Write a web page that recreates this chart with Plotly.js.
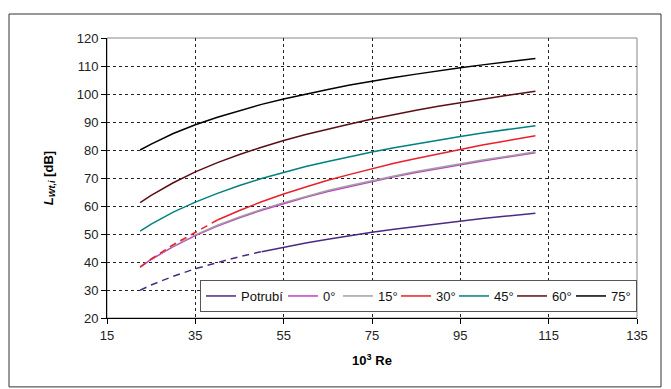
<!DOCTYPE html>
<html>
<head>
<meta charset="utf-8">
<script src="https://cdn.plot.ly/plotly-3.0.1.min.js"></script>
<style>html,body{margin:0;padding:0;background:#fff;}#chart{width:671px;height:389px;}</style>
</head>
<body>
<div id="chart"></div>
<script>
// Re x 10^3
var re = [22.5, 25, 30, 35, 40, 45, 50, 55, 60, 65, 70, 75, 80, 85, 90, 95, 100, 105, 112];

var seriesNames = ["Potrubí", "0°", "15°", "30°", "45°", "60°", "75°"];
var potrubi = [29.9, 31.8, 34.9, 37.6, 39.8, 41.9, 43.7, 45.3, 46.8, 48.1, 49.4, 50.6, 51.7, 52.7, 53.7, 54.6, 55.5, 56.3, 57.4];
var deg0   = [38.2, 40.9, 45.5, 49.4, 52.8, 55.8, 58.5, 60.9, 63.1, 65.2, 67.0, 68.8, 70.4, 72.0, 73.4, 74.8, 76.1, 77.3, 79.0];
var deg15  = [38.3, 41.1, 45.8, 49.7, 53.1, 56.1, 58.8, 61.2, 63.4, 65.5, 67.3, 69.1, 70.7, 72.3, 73.7, 75.1, 76.4, 77.6, 79.4];
var deg30  = [38.2, 41.0, 46.2, 50.6, 55.0, 58.4, 61.5, 64.3, 66.8, 69.2, 71.3, 73.4, 75.3, 77.0, 78.7, 80.2, 81.8, 83.2, 85.1];
var deg45  = [51.0, 53.5, 57.8, 61.4, 64.5, 67.3, 69.8, 72.0, 74.1, 75.9, 77.7, 79.3, 80.8, 82.2, 83.6, 84.8, 86.1, 87.2, 88.7];
var deg60  = [61.2, 63.8, 68.3, 72.2, 75.5, 78.4, 81.0, 83.4, 85.5, 87.5, 89.3, 91.1, 92.7, 94.2, 95.6, 96.9, 98.2, 99.4, 101.0];
var deg75  = [80.0, 82.1, 85.9, 89.0, 91.7, 94.1, 96.3, 98.2, 100.0, 101.6, 103.2, 104.6, 105.9, 107.1, 108.3, 109.4, 110.4, 111.4, 112.7];
// index up to which each series is drawn dashed (0 = fully solid)
var dashedUntil = [6, 0, 3, 4, 0, 0, 0];

var colors = ["#4b2a83", "#c040c0", "#a0a0a0", "#e8202a", "#008080", "#5a0f14", "#000000"];
var legendWidths = [37, 10, 13, 13, 13, 14, 20];
var allY = [potrubi, deg0, deg15, deg30, deg45, deg60, deg75];

var xTickVals = [15, 35, 55, 75, 95, 115, 135];
var yTickVals = [20, 30, 40, 50, 60, 70, 80, 90, 100, 110, 120];

var traces = [];
for (var i = 0; i < seriesNames.length; i++) {
  var k = dashedUntil[i];
  if (k > 0) {
    traces.push({
      x: re.slice(0, k + 1), y: allY[i].slice(0, k + 1), type: "scatter", mode: "lines",
      line: {color: colors[i], width: 1.5, dash: "7px,5px"}, showlegend: false, hoverinfo: "skip"
    });
  }
  traces.push({
    x: re.slice(k), y: allY[i].slice(k), type: "scatter", mode: "lines",
    name: seriesNames[i], line: {color: colors[i], width: 1.5},
    legendwidth: legendWidths[i]
  });
}

var layout = {
  width: 671, height: 389,
  margin: {l: 107, r: 34, t: 38, b: 71},
  paper_bgcolor: "#ffffff", plot_bgcolor: "#ffffff",
  font: {family: "Arial, Liberation Sans, sans-serif", size: 13, color: "#222"},
  showlegend: true,
  xaxis: {
    range: [15, 135], tickvals: xTickVals, ticktext: xTickVals.map(String),
    showgrid: true, gridcolor: "#222", griddash: "3px,3px", gridwidth: 1,
    zeroline: false, showline: true, linecolor: "#000", linewidth: 1,
    ticks: "outside", ticklen: 5, tickcolor: "#000",
    title: {text: "<b>10<sup>3</sup> Re</b>", font: {size: 13, color: "#000"}, standoff: 14}
  },
  yaxis: {
    range: [20, 120], tickvals: yTickVals, ticktext: yTickVals.map(String),
    showgrid: true, gridcolor: "#222", griddash: "3px,3px", gridwidth: 1,
    zeroline: false, showline: true, linecolor: "#000", linewidth: 1,
    ticks: "outside", ticklen: 5, tickcolor: "#000",
    title: {text: "<b><i>L</i></b><sub><b><i>Wt,i</i></b></sub><b> [dB]</b>", font: {size: 13, color: "#000"}, standoff: 20}
  },
  legend: {
    orientation: "h", x: 1, xanchor: "right", y: 0.0214, yanchor: "bottom",
    bgcolor: "#fff", bordercolor: "#555", borderwidth: 1,
    font: {size: 13, color: "#111"}, itemwidth: 30, tracegroupgap: 0
  },
  shapes: [
    {type: "rect", xref: "paper", yref: "paper", x0: 0, x1: 1, y0: 0, y1: 1,
     line: {color: "#888", width: 1}, layer: "below"},
    {type: "rect", xref: "paper", yref: "paper", x0: -0.1849, x1: 1.0453, y0: -0.246, y1: 1.0857,
     line: {color: "#333", width: 1}, layer: "below"}
  ]
};

Plotly.newPlot("chart", traces, layout, {staticPlot: true, displayModeBar: false});
</script>
</body>
</html>
